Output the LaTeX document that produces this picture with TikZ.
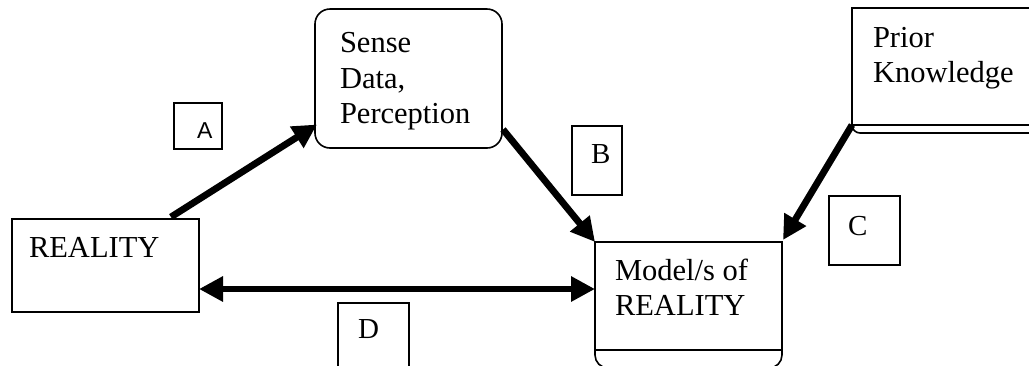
\documentclass[tikz,border=0pt]{standalone}
\usepackage{fontspec}
\setmainfont{Liberation Serif}
\newfontfamily\labsans{Liberation Sans}
\usetikzlibrary{arrows.meta,calc}
\begin{document}
\begin{tikzpicture}[x=1pt,y=1pt,
  box/.style={draw,line width=1.6pt,inner sep=0pt,outer sep=0pt},
  rbox/.style={box,rounded corners=15pt},
  lab/.style={box},
  txt/.style={inner sep=0pt,outer sep=0pt,anchor=base west,font=\fontsize{30.5}{35}\selectfont},
  ltxt/.style={inner sep=0pt,outer sep=0pt,anchor=base west,font=\fontsize{29}{34}\selectfont},
  conn/.style={line width=6.8pt,line cap=butt,-{Triangle[length=24pt,width=24pt]}},
  dconn/.style={line width=6.8pt,line cap=butt,{Triangle[length=24pt,width=24pt]}-{Triangle[length=24pt,width=24pt]}}
]
\useasboundingbox (0,0) rectangle (1029,-365);
\fill[white] (0,0) rectangle (1029,-365);
% main boxes
\node[box,anchor=north west,minimum width=187pt,minimum height=93pt] (reality) at (12,-219) {};
\node[rbox,anchor=north west,minimum width=187pt,minimum height=139pt] (sense) at (315,-9) {};
\node[box,anchor=north west,minimum width=187pt,minimum height=108pt] (model) at (595,-242) {};
\node[box,anchor=north west,minimum width=200pt,minimum height=117pt] (prior) at (852,-8) {};
% rounded lower extensions
\draw[line width=1.6pt] (model.south west) -- ++(0,-5) arc[start angle=180,end angle=270,radius=13pt] -- ($(model.south east)+(-13,-18)$) arc[start angle=270,end angle=360,radius=13pt] -- (model.south east);
\draw[line width=1.6pt] (prior.south west) arc[start angle=180,end angle=270,radius=8pt] -- ++(200,0);
% texts
\node[txt] (t1) at (29,-257) {REALITY};
\node[txt] (t2) at (340,-52) {Sense};
\node[txt] (t3) at (340,-88) {Data,};
\node[txt] (t4) at (340,-123) {Perception};
\node[txt] (t5) at (873,-47) {Prior};
\node[txt] (t6) at (873,-82) {Knowledge};
\node[txt] (t7) at (615,-280) {Model/s of};
\node[txt] (t8) at (615,-315) {REALITY};
% label boxes
\node[lab,anchor=north west,minimum width=48pt,minimum height=46pt] (la) at (174,-103) {};
\node[inner sep=0pt,anchor=base west,font=\labsans\fontsize{23}{28}\selectfont] (ta) at (197,-138) {A};
\node[lab,anchor=north west,minimum width=50pt,minimum height=69pt] (lb) at (572,-126) {};
\node[ltxt] (tb) at (591,-163) {B};
\node[lab,anchor=north west,minimum width=71pt,minimum height=69pt] (lc) at (829,-196) {};
\node[ltxt] (tc) at (848,-235) {C};
\node[lab,anchor=north west,minimum width=71pt,minimum height=80pt] (ld) at (338,-303) {};
\node[ltxt] (td) at (358,-338) {D};
% connectors
\coordinate (dy) at (0,-289);
\draw[conn] ($(reality.north west)!0.85!(reality.north east)+(0,2)$) -- ($(sense.west)+(2,-46)$);
\draw[conn] ($(sense.east)+(1,-51)$) -- (model.north west);
\draw[conn] (prior.south west) -- ($(model.north east)+(1,2)$);
\draw[dconn] (reality.east |- dy) -- (model.west |- dy);
\end{tikzpicture}
\end{document}
